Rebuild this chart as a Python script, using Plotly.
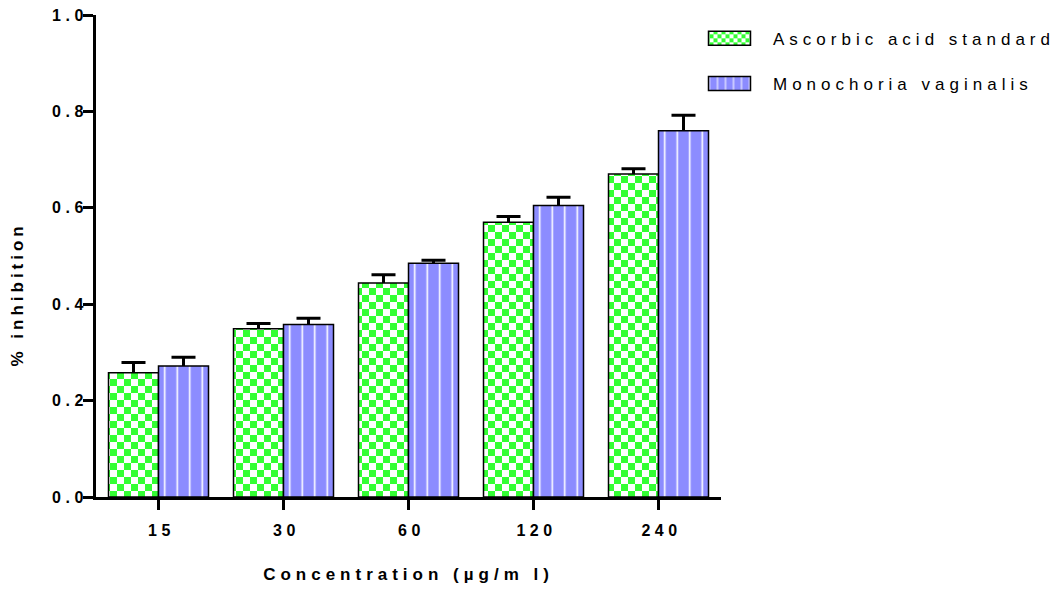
import plotly.graph_objects as go

# Concentration groups and measured inhibition (mean and upper error)
concentrations = ["15", "30", "60", "120", "240"]
ascorbic = [0.258, 0.349, 0.444, 0.570, 0.670]
ascorbic_err = [0.021, 0.011, 0.017, 0.012, 0.011]
monochoria = [0.272, 0.358, 0.485, 0.605, 0.760]
monochoria_err = [0.018, 0.013, 0.006, 0.017, 0.032]
series_names = ["Ascorbic acid standard", "Monochoria vaginalis"]
y_ticks = [0.0, 0.2, 0.4, 0.6, 0.8, 1.0]

GREEN = "#33ff33"
BLUE = "#8c8cff"
FONT = "Liberation Sans, Arial, sans-serif"

fig = go.Figure()

# Error bars live on the base axes, under the patterned bars, so only the upper half shows
for vals, errs in [(ascorbic, ascorbic_err), (monochoria, monochoria_err)]:
    fig.add_trace(go.Bar(
        x=concentrations, y=vals, xaxis="x", yaxis="y",
        marker=dict(color="rgba(0,0,0,0)", line=dict(width=0)),
        error_y=dict(type="data", array=errs, visible=True, color="black",
                     thickness=3, width=12),
        showlegend=False, hoverinfo="skip",
    ))

fig.add_trace(go.Bar(
    x=concentrations, y=ascorbic, name=series_names[0], xaxis="x2", yaxis="y2",
    legendgroup="a",
    marker=dict(color="white", line=dict(color="black", width=1.5),
                pattern=dict(shape=".", fgcolor=GREEN, bgcolor="white",
                             size=14, solidity=0.5, fillmode="replace")),
))
fig.add_trace(go.Bar(
    x=concentrations, y=monochoria, name=series_names[1], xaxis="x2", yaxis="y2",
    legendgroup="b",
    marker=dict(color=BLUE, line=dict(color="black", width=1.5),
                pattern=dict(shape="|", fgcolor="white", bgcolor=BLUE,
                             size=12.5, solidity=0.13, fillmode="replace")),
))

axis_common = dict(showgrid=False, zeroline=False, showline=True, linecolor="black",
                   linewidth=3, ticks="outside", ticklen=10, tickwidth=3,
                   tickcolor="black")

fig.update_layout(
    width=1061, height=593,
    margin=dict(l=96, r=340, t=15, b=96, autoexpand=False),
    paper_bgcolor="white", plot_bgcolor="white",
    barmode="group", bargap=0.2, bargroupgap=0,
    font=dict(family=FONT, color="black"),
    xaxis=dict(type="category", range=[-0.5, 4.5], **axis_common,
               tickfont=dict(size=16, weight="bold"),
               ticklabelstandoff=7, ticklabelshift=3,
               title=dict(text="Concentration (µg/m l)", standoff=30,
                          font=dict(size=17, weight="bold"))),
    yaxis=dict(range=[0, 1], tickvals=y_ticks, tickformat=".1f", **axis_common,
               tickfont=dict(size=16, weight="bold"),
               ticklabelstandoff=-8),
    xaxis2=dict(type="category", overlaying="x", matches="x", visible=False),
    yaxis2=dict(overlaying="y", matches="y", visible=False),
    legend=dict(x=0.944, y=0.988, xanchor="left", yanchor="top",
                font=dict(size=17, family=FONT), tracegroupgap=20,
                itemwidth=77, bgcolor="rgba(0,0,0,0)"),
    annotations=[dict(text="% inhibition", textangle=-90, xref="paper", yref="paper",
                      x=-0.1248, y=0.42, xanchor="center", yanchor="middle",
                      showarrow=False, font=dict(size=17, weight="bold"))],
)

post = """
var gd = document.getElementById('{plot_id}');
var st = document.createElement('style');
st.textContent = '.xtick text,.ytick text{letter-spacing:4.5px}' +
  '.g-xtitle text{letter-spacing:5px}.annotation-text{letter-spacing:4px}' +
  '.legendtext{letter-spacing:5px}.legend .scrollbox{clip-path:none !important}';
document.head.appendChild(st);
function restyle() {
  var NS = 'http://www.w3.org/2000/svg';
  document.querySelectorAll('pattern').forEach(function (p) {
    var c = p.querySelector('circle');
    if (!c) return;
    var w = parseFloat(p.getAttribute('width'));
    var h = w / 2;
    var f = c.getAttribute('fill') || '%s';
    p.removeChild(c);
    [[0, 0], [h, h]].forEach(function (o) {
      var r = document.createElementNS(NS, 'rect');
      r.setAttribute('x', o[0]); r.setAttribute('y', o[1]);
      r.setAttribute('width', h); r.setAttribute('height', h);
      r.setAttribute('fill', f);
      p.appendChild(r);
    });
  });
  document.querySelectorAll('.legend .legendpoints path').forEach(function (p) {
    p.setAttribute('d', 'M21,7H-21V-7H21Z');
  });
  document.querySelectorAll('.legend [clip-path]').forEach(function (g) {
    g.removeAttribute('clip-path');
  });
}
restyle();
setTimeout(restyle, 50);
gd.on('plotly_afterplot', restyle);
""" % GREEN

fig.write_html("out.html", post_script=post)
